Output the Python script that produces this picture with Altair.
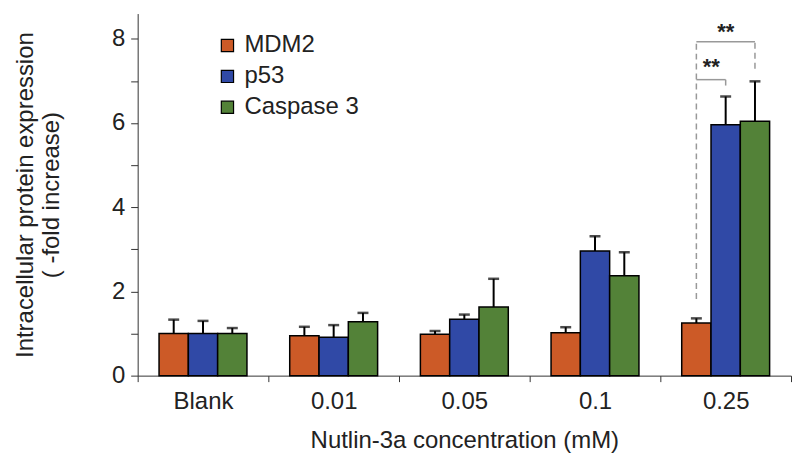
import altair as alt
import pandas as pd

conc = ["Blank", "0.01", "0.05", "0.1", "0.25"]
series = ["MDM2", "p53", "Caspase 3"]
colors = ["#CC5A27", "#3049A6", "#538238"]

mdm2 = [1.0, 0.95, 0.98, 1.02, 1.25]
mdm2_err = [0.33, 0.21, 0.08, 0.13, 0.11]
p53 = [1.0, 0.91, 1.34, 2.96, 5.96]
p53_err = [0.30, 0.29, 0.11, 0.35, 0.67]
casp = [1.0, 1.28, 1.63, 2.37, 6.04]
casp_err = [0.13, 0.21, 0.67, 0.56, 0.95]

# significance annotation (group 0.25)
sig_group = "0.25"
bracket_ends = ["p53", "Caspase 3"]
bracket_levels = [7.03, 7.93]
bracket_drops = [6.89, 7.29]
dash_bottom = 1.82
star_series = ["MDM2", "p53"]
star_levels = [7.32, 8.15]

rows = []
for s, vals, errs in [("MDM2", mdm2, mdm2_err), ("p53", p53, p53_err), ("Caspase 3", casp, casp_err)]:
    for c, v, e in zip(conc, vals, errs):
        rows.append({"conc": c, "series": s, "value": v, "upper": v + e})
df = pd.DataFrame(rows)

hrows = []
for i, (end, lvl) in enumerate(zip(bracket_ends, bracket_levels)):
    hrows.append({"seg": i, "conc": sig_group, "series": "MDM2", "y": lvl})
    hrows.append({"seg": i, "conc": sig_group, "series": end, "y": lvl})
hdf = pd.DataFrame(hrows)

vrows = [{"conc": sig_group, "series": "MDM2", "y": dash_bottom, "y2": max(bracket_levels)}]
for end, lvl, drop in zip(bracket_ends, bracket_levels, bracket_drops):
    vrows.append({"conc": sig_group, "series": end, "y": drop, "y2": lvl})
vdf = pd.DataFrame(vrows)

s1 = pd.DataFrame([{"conc": sig_group, "series": star_series[0], "y": star_levels[0], "t": "**"}])
s2 = pd.DataFrame([{"conc": sig_group, "series": star_series[1], "y": star_levels[1], "t": "**"}])

FONT = "Liberation Sans"

xenc = alt.X("conc:N", sort=conc,
             scale=alt.Scale(paddingInner=0, paddingOuter=0),
             axis=alt.Axis(title="Nutlin-3a concentration (mM)", tickBand="extent", labelAngle=0,
                           labelFontSize=24, titleFontSize=24, titleFontWeight="normal",
                           labelColor="#222", titleColor="#222", domainColor="#333", tickColor="#333",
                           tickSize=6, labelPadding=8, titlePadding=15, labelFont=FONT, titleFont=FONT))
xoff = alt.XOffset("series:N", sort=series, scale=alt.Scale(paddingInner=0, paddingOuter=0.73))
yscale = alt.Scale(domain=[0, 8.6], nice=False)
yaxis = alt.Axis(title=["Intracellular protein expression", "( -fold increase)"],
                 values=list(range(0, 9)), labelExpr="datum.value % 2 == 0 ? datum.label : ''",
                 grid=False, tickSize=7, labelFontSize=24, titleFontSize=24, titleFontWeight="normal",
                 labelColor="#222", titleColor="#222", domainColor="#333", tickColor="#333",
                 labelPadding=6, titlePadding=48, labelFont=FONT, titleFont=FONT)

bars = alt.Chart(df).mark_bar(stroke="black", strokeWidth=1.5).encode(
    x=xenc, xOffset=xoff,
    y=alt.Y("value:Q", scale=yscale, axis=yaxis),
    fill=alt.Fill("series:N", sort=series, scale=alt.Scale(domain=series, range=colors),
                  legend=alt.Legend(title=None, orient="none", legendX=78, legendY=20,
                                    symbolType="square", symbolSize=150, symbolStrokeColor="black",
                                    symbolStrokeWidth=1.2, symbolOpacity=1, labelFontSize=24,
                                    labelFont=FONT, labelColor="#222", rowPadding=7, padding=0,
                                    labelOffset=5)),
)

X = alt.X("conc:N", sort=conc)
XO = alt.XOffset("series:N", sort=series)

err = alt.Chart(df).mark_rule(color="black", strokeWidth=2).encode(
    x=X, xOffset=XO, y="value:Q", y2="upper:Q")
caps = alt.Chart(df).mark_tick(color="black", thickness=2.5, size=11).encode(
    x=X, xOffset=XO, y="upper:Q")

hlines = alt.Chart(hdf).mark_line(color="#999", strokeWidth=1.5).encode(
    x=X, xOffset=XO, y="y:Q", detail="seg:N")
vlines = alt.Chart(vdf).mark_rule(color="#999", strokeWidth=1.5, strokeDash=[6, 4]).encode(
    x=X, xOffset=XO, y="y:Q", y2="y2:Q")

stars1 = alt.Chart(s1).mark_text(fontSize=22, fontWeight="bold", font=FONT, color="#222",
                                 baseline="middle", dx=15).encode(
    x=X, xOffset=XO, y="y:Q", text="t:N")
stars2 = alt.Chart(s2).mark_text(fontSize=22, fontWeight="bold", font=FONT, color="#222",
                                 baseline="middle").encode(
    x=X, xOffset=XO, y="y:Q", text="t:N")

chart = alt.layer(bars, err, caps, vlines, hlines, stars1, stars2).properties(
    width=655, height=363, padding={"left": 5, "top": 5, "right": 0, "bottom": 0}
).configure_view(stroke=None)

chart.save("out.html", embed_options={"renderer": "svg", "actions": False})
